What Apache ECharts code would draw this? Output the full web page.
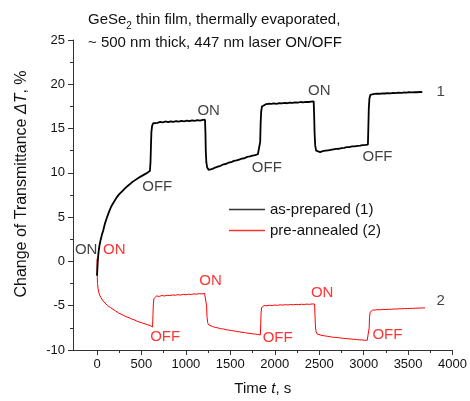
<!DOCTYPE html>
<html>
<head>
<meta charset="utf-8">
<script src="https://cdn.jsdelivr.net/npm/echarts@6/dist/echarts.min.js"></script>
<style>
  html, body { margin: 0; padding: 0; background: #fff; }
  #chart { width: 470px; height: 401px; }
</style>
</head>
<body>
<div id="chart"></div>
<script>
// Transmittance change of a GeSe2 film under 447 nm laser switching (time in s, dT in %)
const asPrepared = [
  [0,-1.6],[5,-0.7],[10,0.2],[18,1.1],[28,1.8],[40,2.4],[55,3.0],[70,3.5],[90,4.3],[110,4.9],
  [135,5.6],[160,6.2],[190,6.7],[220,7.2],[250,7.6],[285,7.95],[320,8.3],[355,8.6],[390,8.9],[425,9.15],
  [460,9.4],[495,9.6],[530,9.8],[565,10.0],[595,10.2],[602,11.2],[607,13.0],[612,14.6],[620,15.3],[632,15.6],
  [650,15.7],[680,15.65],[710,15.75],[740,15.7],[770,15.8],[800,15.72],[830,15.8],[860,15.76],[890,15.85],[920,15.78],
  [950,15.86],[980,15.82],[1010,15.9],[1040,15.84],[1070,15.92],[1100,15.88],[1130,15.95],[1160,15.9],[1190,15.97],[1215,16.0],
  [1220,14.5],[1224,12.5],[1230,11.2],[1240,10.6],[1255,10.35],[1275,10.4],[1300,10.45],[1330,10.6],[1360,10.7],[1390,10.8],
  [1420,10.95],[1450,11.0],[1480,11.15],[1510,11.2],[1540,11.35],[1570,11.4],[1600,11.5],[1630,11.6],[1660,11.65],[1690,11.8],
  [1720,11.85],[1750,11.95],[1780,12.0],[1810,12.1],[1830,12.2],[1836,13.5],[1841,15.6],[1847,16.9],[1856,17.5],[1870,17.7],
  [1900,17.75],[1930,17.8],[1960,17.78],[1990,17.85],[2020,17.8],[2050,17.88],[2080,17.84],[2110,17.9],[2140,17.86],[2170,17.93],
  [2200,17.9],[2230,17.96],[2260,17.92],[2290,18.0],[2320,17.96],[2350,18.02],[2380,18.0],[2410,18.05],[2438,18.08],[2443,16.5],
  [2448,14.5],[2455,13.1],[2465,12.5],[2480,12.3],[2510,12.35],[2540,12.45],[2570,12.5],[2600,12.55],[2630,12.6],[2660,12.65],
  [2690,12.7],[2720,12.72],[2750,12.8],[2780,12.82],[2810,12.9],[2840,12.9],[2870,12.98],[2900,13.0],[2930,13.05],[2960,13.08],
  [2990,13.12],[3020,13.15],[3048,13.2],[3053,15.2],[3058,17.3],[3065,18.4],[3075,18.8],[3090,18.9],[3120,18.92],[3150,18.95],
  [3180,18.93],[3210,18.98],[3240,18.96],[3270,19.0],[3300,18.98],[3330,19.02],[3360,19.0],[3390,19.05],[3420,19.03],[3450,19.07],
  [3480,19.05],[3510,19.1],[3540,19.08],[3570,19.12],[3600,19.1],[3630,19.13],[3660,19.12]
];

const preAnnealed = [
  [0,0.3],[1,-1.0],[3,-1.8],[6,-2.5],[12,-3.1],[20,-3.5],[30,-3.8],[45,-4.1],[65,-4.4],[90,-4.7],
  [120,-5.0],[150,-5.2],[180,-5.4],[210,-5.6],[240,-5.8],[270,-5.95],[300,-6.1],[330,-6.25],[360,-6.35],[390,-6.5],
  [420,-6.6],[450,-6.75],[480,-6.85],[510,-6.95],[540,-7.05],[570,-7.15],[600,-7.25],[625,-7.4],[630,-6.0],[634,-4.8],
  [640,-4.2],[650,-4.0],[670,-3.9],[700,-3.95],[730,-3.85],[760,-3.9],[790,-3.82],[820,-3.86],[850,-3.78],[880,-3.82],
  [910,-3.75],[940,-3.8],[970,-3.72],[1000,-3.76],[1030,-3.7],[1060,-3.73],[1090,-3.66],[1120,-3.7],[1150,-3.64],[1180,-3.67],
  [1210,-3.6],[1228,-3.62],[1233,-5.0],[1238,-6.3],[1245,-6.9],[1255,-7.15],[1270,-7.3],[1300,-7.35],[1330,-7.45],[1360,-7.5],
  [1390,-7.6],[1420,-7.62],[1450,-7.7],[1480,-7.75],[1510,-7.8],[1540,-7.85],[1570,-7.9],[1600,-7.95],[1630,-8.0],[1660,-8.02],
  [1690,-8.1],[1720,-8.12],[1750,-8.18],[1780,-8.2],[1810,-8.25],[1838,-8.3],[1842,-7.0],[1846,-5.8],[1852,-5.2],[1862,-5.05],
  [1880,-4.98],[1910,-5.0],[1940,-4.95],[1970,-4.98],[2000,-4.92],[2030,-4.96],[2060,-4.9],[2090,-4.93],[2120,-4.88],[2150,-4.92],
  [2180,-4.86],[2210,-4.9],[2240,-4.85],[2270,-4.88],[2300,-4.83],[2330,-4.86],[2360,-4.82],[2390,-4.85],[2420,-4.8],[2448,-4.82],
  [2453,-6.2],[2458,-7.4],[2465,-7.95],[2478,-8.2],[2500,-8.3],[2530,-8.35],[2560,-8.4],[2590,-8.45],[2620,-8.5],[2650,-8.55],
  [2680,-8.58],[2710,-8.6],[2740,-8.65],[2770,-8.68],[2800,-8.7],[2830,-8.74],[2860,-8.76],[2890,-8.8],[2920,-8.82],[2950,-8.85],
  [2980,-8.86],[3010,-8.9],[3040,-8.9],[3058,-8.92],[3062,-7.5],[3066,-6.3],[3072,-5.75],[3082,-5.55],[3100,-5.5],[3130,-5.48],
  [3160,-5.45],[3190,-5.46],[3220,-5.42],[3250,-5.43],[3280,-5.4],[3310,-5.41],[3340,-5.37],[3370,-5.38],[3400,-5.34],[3430,-5.35],
  [3460,-5.32],[3490,-5.33],[3520,-5.3],[3550,-5.3],[3580,-5.28],[3610,-5.28],[3640,-5.26],[3670,-5.25],[3690,-5.24]
];

// Switching notes in data coordinates: [text, time, dT]
const notesAsPrepared = [
  ['ON', -122, 1.35], ['OFF', 678, 8.4], ['ON', 1256, 17.0], ['OFF', 1911, 10.6],
  ['ON', 2500, 19.3], ['OFF', 3156, 11.8], ['1', 3867, 19.15], ['2', 3867, -4.4]
];
const notesPreAnnealed = [
  ['ON', 194, 1.25], ['OFF', 767, -8.5], ['ON', 1278, -2.15], ['OFF', 2033, -8.6],
  ['ON', 2533, -3.6], ['OFF', 3267, -8.3]
];

const xMajorTicks = [0, 500, 1000, 1500, 2000, 2500, 3000, 3500, 4000];
const xMinorTicks = [250, 750, 1250, 1750, 2250, 2750, 3250, 3750];
const xRange = [-270, 4000];
const yRange = [-10, 25];

const FONT = '"Liberation Sans", Arial, sans-serif';
const AXIS_COLOR = '#333';
const TEXT_COLOR = '#111';

function noteSeries(notes, color) {
  return {
    type: 'scatter',
    silent: true,
    symbolSize: 1,
    itemStyle: { color: 'transparent' },
    data: notes.map(n => ({ name: n[0], value: [n[1], n[2]] })),
    label: {
      show: true, position: 'inside', formatter: '{b}',
      color: color, fontSize: 15, fontFamily: FONT
    },
    z: 5
  };
}

const chart = echarts.init(document.getElementById('chart'), null, { renderer: 'canvas' });

chart.setOption({
  animation: false,
  backgroundColor: '#fff',
  textStyle: { fontFamily: FONT },
  title: {
    left: 83, top: 3,
    text: '{t|GeSe}{s|2}{t| thin film, thermally evaporated,}\n{t|~ 500 nm thick, 447 nm laser ON/OFF}',
    textStyle: {
      fontWeight: 'normal',
      rich: {
        t: { fontSize: 15, fontWeight: 'normal', fontFamily: FONT, color: TEXT_COLOR, lineHeight: 23 },
        s: { fontSize: 10, fontWeight: 'normal', fontFamily: FONT, color: TEXT_COLOR, lineHeight: 10, verticalAlign: 'bottom' }
      }
    }
  },
  // Vertical axis title, centred a little above the plot middle
  graphic: [{
    type: 'text',
    x: 22, y: 184,
    rotation: Math.PI / 2,
    style: {
      text: 'Change of Transmittance {i|\u0394T}, %',
      font: '16px ' + FONT,
      fill: TEXT_COLOR,
      align: 'center',
      verticalAlign: 'middle',
      rich: { i: { fontSize: 16, fontStyle: 'italic', fontFamily: FONT, fill: TEXT_COLOR } }
    }
  }],
  legend: {
    data: ['as-prepared (1)', 'pre-annealed (2)'],
    orient: 'vertical',
    left: 224, top: 197,
    icon: 'rect',
    itemWidth: 36, itemHeight: 1.5, itemGap: 6,
    textStyle: { fontSize: 15, color: TEXT_COLOR, fontFamily: FONT }
  },
  grid: { left: 73, right: 12.5, top: 40, bottom: 50, containLabel: false },
  xAxis: [
    {
      type: 'value', min: xRange[0], max: xRange[1],
      name: 'Time {i|t}, s', nameLocation: 'middle', nameGap: 31,
      nameTextStyle: {
        fontSize: 15, color: TEXT_COLOR, fontFamily: FONT,
        rich: { i: { fontSize: 15, fontStyle: 'italic', color: TEXT_COLOR, fontFamily: FONT } }
      },
      axisLine: { onZero: false, lineStyle: { color: AXIS_COLOR, width: 1 } },
      axisTick: { customValues: xMajorTicks, length: 5, lineStyle: { color: AXIS_COLOR } },
      axisLabel: {
        customValues: xMajorTicks, fontSize: 13, color: TEXT_COLOR, margin: 8, fontFamily: FONT,
        formatter: v => String(v)
      },
      splitLine: { show: false }
    },
    {
      type: 'value', min: xRange[0], max: xRange[1], position: 'bottom',
      axisLine: { show: false, onZero: false },
      axisTick: { customValues: xMinorTicks, length: 3, lineStyle: { color: AXIS_COLOR } },
      axisLabel: { show: false },
      splitLine: { show: false }
    }
  ],
  yAxis: {
    type: 'value', min: yRange[0], max: yRange[1], interval: 5,
    axisLine: { show: true, onZero: false, lineStyle: { color: AXIS_COLOR, width: 1 } },
    axisTick: { show: true, length: 5, lineStyle: { color: AXIS_COLOR } },
    minorTick: { show: true, splitNumber: 2, length: 3, lineStyle: { color: AXIS_COLOR } },
    axisLabel: { fontSize: 13, color: TEXT_COLOR, margin: 8, fontFamily: FONT },
    splitLine: { show: false }
  },
  series: [
    {
      name: 'as-prepared (1)', type: 'line', data: asPrepared,
      symbol: 'none', lineStyle: { color: '#000', width: 1.8 }, itemStyle: { color: '#333' }, z: 3
    },
    {
      name: 'pre-annealed (2)', type: 'line', data: preAnnealed,
      symbol: 'none', lineStyle: { color: '#ff0000', width: 1 }, itemStyle: { color: '#ff3030' }, z: 2
    },
    noteSeries(notesAsPrepared, TEXT_COLOR),
    noteSeries(notesPreAnnealed, '#ff0000')
  ]
});
</script>
</body>
</html>
